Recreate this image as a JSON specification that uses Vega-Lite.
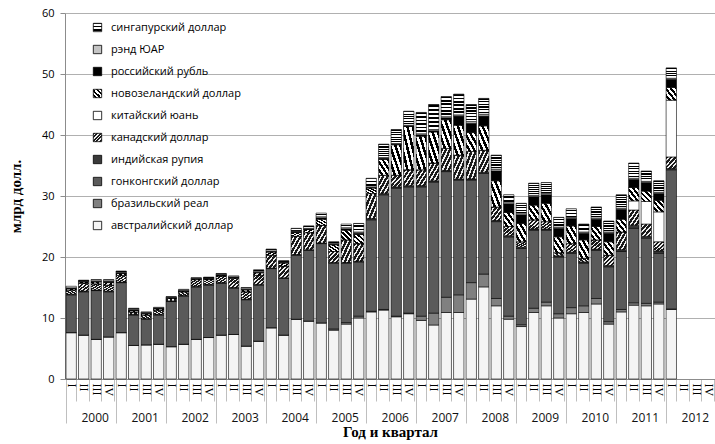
{
  "$schema": "https://vega.github.io/schema/vega-lite/v6.json",
  "width": 650,
  "height": 366,
  "autosize": {"type": "none"},
  "padding": {"left": 65, "top": 13, "right": 0, "bottom": 65},
  "background": "white",
  "config": {
    "view": {"stroke": null},
    "axis": {"labelFont": "Open Sans", "labelColor": "#000"}
  },
  "data": {
    "values": [
      {"t":0,"AUD":7.6,"BRL":0,"HKD":6.2,"INR":0.1,"CAD":0.7,"CNY":0,"NZD":0.2,"RUB":0.1,"ZAR":0.05,"SGD":0.25},
      {"t":1,"AUD":7.2,"BRL":0,"HKD":7.1,"INR":0.1,"CAD":1.3,"CNY":0,"NZD":0.2,"RUB":0.1,"ZAR":0.05,"SGD":0.15},
      {"t":2,"AUD":6.5,"BRL":0,"HKD":8.0,"INR":0.1,"CAD":1.0,"CNY":0,"NZD":0.3,"RUB":0.1,"ZAR":0.1,"SGD":0.2},
      {"t":3,"AUD":6.9,"BRL":0,"HKD":7.4,"INR":0.1,"CAD":1.0,"CNY":0,"NZD":0.4,"RUB":0.2,"ZAR":0.1,"SGD":0.2},
      {"t":4,"AUD":7.6,"BRL":0,"HKD":8.2,"INR":0.1,"CAD":1.1,"CNY":0,"NZD":0.3,"RUB":0.1,"ZAR":0.1,"SGD":0.2},
      {"t":5,"AUD":5.5,"BRL":0,"HKD":5.0,"INR":0.1,"CAD":0.4,"CNY":0,"NZD":0.2,"RUB":0.1,"ZAR":0.1,"SGD":0.2},
      {"t":6,"AUD":5.6,"BRL":0,"HKD":4.2,"INR":0.1,"CAD":0.6,"CNY":0,"NZD":0.2,"RUB":0.1,"ZAR":0.1,"SGD":0.1},
      {"t":7,"AUD":5.7,"BRL":0,"HKD":4.8,"INR":0.1,"CAD":0.7,"CNY":0,"NZD":0.2,"RUB":0.1,"ZAR":0.05,"SGD":0.1},
      {"t":8,"AUD":5.3,"BRL":0,"HKD":7.4,"INR":0.1,"CAD":0.4,"CNY":0,"NZD":0.1,"RUB":0.05,"ZAR":0.05,"SGD":0.1},
      {"t":9,"AUD":5.7,"BRL":0,"HKD":7.9,"INR":0.1,"CAD":0.6,"CNY":0,"NZD":0.1,"RUB":0.05,"ZAR":0.15,"SGD":0.1},
      {"t":10,"AUD":6.5,"BRL":0,"HKD":8.6,"INR":0.1,"CAD":1.1,"CNY":0,"NZD":0.1,"RUB":0.05,"ZAR":0.05,"SGD":0.1},
      {"t":11,"AUD":6.8,"BRL":0,"HKD":8.6,"INR":0.1,"CAD":0.8,"CNY":0,"NZD":0.1,"RUB":0.1,"ZAR":0.05,"SGD":0.15},
      {"t":12,"AUD":7.2,"BRL":0,"HKD":8.5,"INR":0.1,"CAD":1.1,"CNY":0,"NZD":0.1,"RUB":0.1,"ZAR":0.05,"SGD":0.15},
      {"t":13,"AUD":7.3,"BRL":0,"HKD":7.6,"INR":0.1,"CAD":1.5,"CNY":0,"NZD":0.1,"RUB":0.1,"ZAR":0.05,"SGD":0.15},
      {"t":14,"AUD":5.4,"BRL":0,"HKD":7.6,"INR":0.1,"CAD":1.2,"CNY":0,"NZD":0.3,"RUB":0.1,"ZAR":0.1,"SGD":0.2},
      {"t":15,"AUD":6.2,"BRL":0,"HKD":9.2,"INR":0.1,"CAD":1.5,"CNY":0,"NZD":0.4,"RUB":0.1,"ZAR":0.1,"SGD":0.3},
      {"t":16,"AUD":8.4,"BRL":0,"HKD":9.7,"INR":0.1,"CAD":2.1,"CNY":0,"NZD":0.5,"RUB":0.1,"ZAR":0.1,"SGD":0.3},
      {"t":17,"AUD":7.2,"BRL":0,"HKD":9.3,"INR":0.1,"CAD":1.9,"CNY":0,"NZD":0.5,"RUB":0.1,"ZAR":0.1,"SGD":0.2},
      {"t":18,"AUD":9.8,"BRL":0,"HKD":10.5,"INR":0.1,"CAD":3.0,"CNY":0,"NZD":0.6,"RUB":0.2,"ZAR":0.1,"SGD":0.4},
      {"t":19,"AUD":9.5,"BRL":0,"HKD":11.6,"INR":0.1,"CAD":2.8,"CNY":0,"NZD":0.5,"RUB":0.1,"ZAR":0.1,"SGD":0.4},
      {"t":20,"AUD":9.2,"BRL":0,"HKD":13.0,"INR":0.1,"CAD":2.9,"CNY":0,"NZD":1.0,"RUB":0.2,"ZAR":0.2,"SGD":0.6},
      {"t":21,"AUD":8.0,"BRL":0.2,"HKD":10.8,"INR":0.1,"CAD":1.8,"CNY":0,"NZD":1.1,"RUB":0.1,"ZAR":0.1,"SGD":0.3},
      {"t":22,"AUD":9.0,"BRL":0.25,"HKD":9.75,"INR":0.1,"CAD":3.7,"CNY":0,"NZD":1.6,"RUB":0.2,"ZAR":0.2,"SGD":0.6},
      {"t":23,"AUD":10.0,"BRL":0.3,"HKD":8.9,"INR":0.1,"CAD":2.9,"CNY":0,"NZD":1.5,"RUB":0.2,"ZAR":0.2,"SGD":1.4},
      {"t":24,"AUD":11.0,"BRL":0.1,"HKD":15.0,"INR":0.2,"CAD":4.1,"CNY":0,"NZD":0.9,"RUB":0.1,"ZAR":0.1,"SGD":1.4},
      {"t":25,"AUD":11.3,"BRL":0.1,"HKD":18.8,"INR":0.2,"CAD":3.0,"CNY":0,"NZD":2.6,"RUB":0.2,"ZAR":0.1,"SGD":2.2},
      {"t":26,"AUD":10.2,"BRL":0.1,"HKD":21.0,"INR":0.2,"CAD":1.9,"CNY":0,"NZD":5.0,"RUB":0.1,"ZAR":0.1,"SGD":2.3},
      {"t":27,"AUD":10.7,"BRL":0.1,"HKD":20.7,"INR":0.2,"CAD":2.6,"CNY":0,"NZD":7.1,"RUB":0.1,"ZAR":0.1,"SGD":2.3},
      {"t":28,"AUD":9.6,"BRL":0.7,"HKD":21.2,"INR":0.2,"CAD":2.6,"CNY":0,"NZD":5.5,"RUB":0.2,"ZAR":0.2,"SGD":3.5},
      {"t":29,"AUD":8.85,"BRL":1.95,"HKD":21.5,"INR":0.2,"CAD":2.9,"CNY":0,"NZD":5.1,"RUB":0.2,"ZAR":0.2,"SGD":4.1},
      {"t":30,"AUD":10.9,"BRL":2.5,"HKD":20.6,"INR":0.2,"CAD":3.6,"CNY":0,"NZD":4.7,"RUB":0.3,"ZAR":0.2,"SGD":3.3},
      {"t":31,"AUD":10.9,"BRL":2.9,"HKD":18.8,"INR":0.2,"CAD":3.9,"CNY":0,"NZD":4.9,"RUB":1.5,"ZAR":0.2,"SGD":3.4},
      {"t":32,"AUD":13.1,"BRL":2.7,"HKD":16.8,"INR":0.2,"CAD":4.5,"CNY":0,"NZD":3.1,"RUB":1.5,"ZAR":0.3,"SGD":2.8},
      {"t":33,"AUD":15.1,"BRL":2.1,"HKD":16.5,"INR":0.2,"CAD":3.6,"CNY":0,"NZD":4.0,"RUB":1.6,"ZAR":0.3,"SGD":2.6},
      {"t":34,"AUD":12.0,"BRL":1.2,"HKD":12.6,"INR":0.2,"CAD":2.2,"CNY":0,"NZD":4.3,"RUB":1.6,"ZAR":0.3,"SGD":2.3},
      {"t":35,"AUD":9.8,"BRL":0.5,"HKD":13.0,"INR":0.2,"CAD":1.5,"CNY":0,"NZD":2.3,"RUB":1.4,"ZAR":0.2,"SGD":1.3},
      {"t":36,"AUD":8.6,"BRL":0.3,"HKD":12.5,"INR":0.2,"CAD":0.9,"CNY":0,"NZD":3.0,"RUB":1.4,"ZAR":0.2,"SGD":1.7},
      {"t":37,"AUD":10.9,"BRL":0.7,"HKD":12.8,"INR":0.2,"CAD":1.5,"CNY":0,"NZD":2.4,"RUB":1.4,"ZAR":0.2,"SGD":2.0},
      {"t":38,"AUD":12.0,"BRL":0.6,"HKD":11.8,"INR":0.2,"CAD":1.2,"CNY":0,"NZD":3.0,"RUB":1.4,"ZAR":0.2,"SGD":1.8},
      {"t":39,"AUD":10.0,"BRL":0.7,"HKD":9.3,"INR":0.2,"CAD":0.5,"CNY":0,"NZD":2.6,"RUB":1.4,"ZAR":0.2,"SGD":1.6},
      {"t":40,"AUD":10.7,"BRL":1.0,"HKD":8.9,"INR":0.2,"CAD":1.4,"CNY":0,"NZD":2.9,"RUB":1.2,"ZAR":0.2,"SGD":1.4},
      {"t":41,"AUD":10.9,"BRL":1.1,"HKD":7.0,"INR":0.2,"CAD":0.6,"CNY":0,"NZD":3.0,"RUB":1.1,"ZAR":0.2,"SGD":1.3},
      {"t":42,"AUD":12.3,"BRL":0.9,"HKD":7.9,"INR":0.2,"CAD":1.5,"CNY":0,"NZD":2.2,"RUB":1.2,"ZAR":0.2,"SGD":1.8},
      {"t":43,"AUD":9.0,"BRL":0.4,"HKD":9.0,"INR":0.2,"CAD":1.7,"CNY":0,"NZD":2.2,"RUB":1.4,"ZAR":0.2,"SGD":1.8},
      {"t":44,"AUD":11.0,"BRL":0.4,"HKD":9.5,"INR":0.3,"CAD":2.9,"CNY":0,"NZD":2.1,"RUB":1.6,"ZAR":0.2,"SGD":2.2},
      {"t":45,"AUD":12.1,"BRL":0.4,"HKD":12.2,"INR":0.5,"CAD":2.5,"CNY":1.5,"NZD":2.2,"RUB":1.3,"ZAR":0.2,"SGD":2.5},
      {"t":46,"AUD":12.0,"BRL":0.4,"HKD":10.7,"INR":0.3,"CAD":2.0,"CNY":3.7,"NZD":1.7,"RUB":1.4,"ZAR":0.2,"SGD":1.7},
      {"t":47,"AUD":12.3,"BRL":0.3,"HKD":8.0,"INR":0.4,"CAD":1.5,"CNY":4.9,"NZD":1.9,"RUB":1.1,"ZAR":0.2,"SGD":1.9},
      {"t":48,"AUD":11.4,"BRL":0.1,"HKD":22.8,"INR":0.2,"CAD":1.9,"CNY":9.3,"NZD":2.1,"RUB":1.3,"ZAR":0.2,"SGD":1.7}
    ]
  },
  "transform": [
    {"fold": ["AUD","BRL","HKD","INR","CAD","CNY","NZD","RUB","ZAR","SGD"], "as": ["c","v"]},
    {"lookup": "c", "from": {"data": {"values": [
      {"c":"AUD","n":"австралийский доллар"},
      {"c":"BRL","n":"бразильский реал"},
      {"c":"HKD","n":"гонконгский доллар"},
      {"c":"INR","n":"индийская рупия"},
      {"c":"CAD","n":"канадский доллар"},
      {"c":"CNY","n":"китайский юань"},
      {"c":"NZD","n":"новозеландский доллар"},
      {"c":"RUB","n":"российский рубль"},
      {"c":"ZAR","n":"рэнд ЮАР"},
      {"c":"SGD","n":"сингапурский доллар"}
    ]}, "key": "c", "fields": ["n"]}}
  ],
  "layer": [
    {
      "mark": {"type": "bar", "stroke": "#000", "strokeWidth": 0.6},
      "encoding": {
        "x": {
          "field": "t", "type": "ordinal",
          "scale": {"domain": [0,1,2,3,4,5,6,7,8,9,10,11,12,13,14,15,16,17,18,19,20,21,22,23,24,25,26,27,28,29,30,31,32,33,34,35,36,37,38,39,40,41,42,43,44,45,46,47,48,49,50,51], "paddingInner": 0.17, "paddingOuter": 0.08},
          "axis": {
            "orient": "bottom", "title": null,
            "labelExpr": "['I','II','III','IV'][datum.value % 4]",
            "labelAngle": 90, "labelAlign": "left", "labelBaseline": "middle",
            "labelFont": "Liberation Serif", "labelFontSize": 12,
            "tickBand": "extent", "tickSize": 22, "tickColor": "#bfbfbf",
            "labelPadding": -18, "domainColor": "#8c8c8c"
          }
        },
        "y": {
          "field": "v", "type": "quantitative", "stack": "zero",
          "scale": {"domain": [0, 60], "nice": false},
          "axis": {
            "title": "млрд долл.", "titleFont": "Liberation Serif", "titleFontSize": 15, "titleFontWeight": "bold", "titlePadding": 18,
            "values": [0,10,20,30,40,50,60], "labelFontSize": 11, "labelPadding": 6,
            "tickSize": 5, "tickColor": "#8c8c8c", "domainColor": "#8c8c8c",
            "gridColor": "#b0b0b0"
          }
        },
        "order": {"field": "n", "sort": "ascending"},
        "color": {
          "field": "n", "type": "nominal",
          "scale": {
            "domain": ["сингапурский доллар","рэнд ЮАР","российский рубль","новозеландский доллар","китайский юань","канадский доллар","индийская рупия","гонконгский доллар","бразильский реал","австралийский доллар"],
            "range": [
              {"expr": "{gradient: 'linear', x1: 0, y1: 0, x2: 0, y2: 1, stops: [{offset: 0, color: '#000'}, {offset: 0.08, color: '#000'}, {offset: 0.08, color: '#fff'}, {offset: 0.167, color: '#fff'}, {offset: 0.167, color: '#000'}, {offset: 0.25, color: '#000'}, {offset: 0.25, color: '#fff'}, {offset: 0.333, color: '#fff'}, {offset: 0.333, color: '#000'}, {offset: 0.417, color: '#000'}, {offset: 0.417, color: '#fff'}, {offset: 0.5, color: '#fff'}, {offset: 0.5, color: '#000'}, {offset: 0.583, color: '#000'}, {offset: 0.583, color: '#fff'}, {offset: 0.667, color: '#fff'}, {offset: 0.667, color: '#000'}, {offset: 0.75, color: '#000'}, {offset: 0.75, color: '#fff'}, {offset: 0.833, color: '#fff'}, {offset: 0.833, color: '#000'}, {offset: 0.917, color: '#000'}, {offset: 0.917, color: '#fff'}, {offset: 1, color: '#fff'}]}"},
              "#c4c4c4",
              "#000000",
              {"expr": "{gradient: 'linear', x1: 1, y1: 0, x2: 0, y2: 1, stops: [{offset: 0, color: '#000'}, {offset: 0.125, color: '#000'}, {offset: 0.125, color: '#fff'}, {offset: 0.25, color: '#fff'}, {offset: 0.25, color: '#000'}, {offset: 0.375, color: '#000'}, {offset: 0.375, color: '#fff'}, {offset: 0.5, color: '#fff'}, {offset: 0.5, color: '#000'}, {offset: 0.625, color: '#000'}, {offset: 0.625, color: '#fff'}, {offset: 0.75, color: '#fff'}, {offset: 0.75, color: '#000'}, {offset: 0.875, color: '#000'}, {offset: 0.875, color: '#fff'}, {offset: 1, color: '#fff'}]}"},
              "#ffffff",
              {"expr": "{gradient: 'linear', x1: 0, y1: 0, x2: 1, y2: 1, stops: [{offset: 0, color: '#1a1a1a'}, {offset: 0.12, color: '#1a1a1a'}, {offset: 0.12, color: '#f0f0f0'}, {offset: 0.2, color: '#f0f0f0'}, {offset: 0.2, color: '#1a1a1a'}, {offset: 0.32, color: '#1a1a1a'}, {offset: 0.32, color: '#f0f0f0'}, {offset: 0.4, color: '#f0f0f0'}, {offset: 0.4, color: '#1a1a1a'}, {offset: 0.52, color: '#1a1a1a'}, {offset: 0.52, color: '#f0f0f0'}, {offset: 0.6, color: '#f0f0f0'}, {offset: 0.6, color: '#1a1a1a'}, {offset: 0.72, color: '#1a1a1a'}, {offset: 0.72, color: '#f0f0f0'}, {offset: 0.8, color: '#f0f0f0'}, {offset: 0.8, color: '#1a1a1a'}, {offset: 0.92, color: '#1a1a1a'}, {offset: 0.92, color: '#f0f0f0'}, {offset: 1, color: '#f0f0f0'}]}"},
              "#3a3a3a",
              "#5a5a5a",
              "#808080",
              "#f4f4f4"
            ]
          },
          "legend": {
            "title": null, "orient": "none", "legendX": 27, "legendY": 9,
            "symbolType": "square", "symbolSize": 70, "symbolStrokeColor": "#000", "symbolStrokeWidth": 0.8,
            "labelFont": "Open Sans", "labelFontSize": 11, "labelColor": "#000",
            "rowPadding": 9, "labelOffset": 8
          }
        }
      }
    },
    {
      "mark": {"type": "rule", "strokeOpacity": 0},
      "encoding": {
        "x": {
          "field": "t", "type": "ordinal",
          "scale": {"domain": [0,1,2,3,4,5,6,7,8,9,10,11,12,13,14,15,16,17,18,19,20,21,22,23,24,25,26,27,28,29,30,31,32,33,34,35,36,37,38,39,40,41,42,43,44,45,46,47,48,49,50,51]},
          "axis": {
            "orient": "bottom",
            "values": [0,4,8,12,16,20,24,28,32,36,40,44,48],
            "labelExpr": "2000 + floor(datum.value / 4)",
            "bandPosition": 0,
            "labelAngle": 0, "labelFontSize": 12, "labelColor": "#111",
            "labelOffset": 24, "labelPadding": -11,
            "tickSize": 44, "tickColor": "#bfbfbf", "domain": false, "grid": false,
            "title": "Год и квартал", "titleFont": "Liberation Serif", "titleFontSize": 15, "titleFontWeight": "bold", "titlePadding": 1
          }
        }
      }
    }
  ],
  "resolve": {"axis": {"x": "independent"}}
}
